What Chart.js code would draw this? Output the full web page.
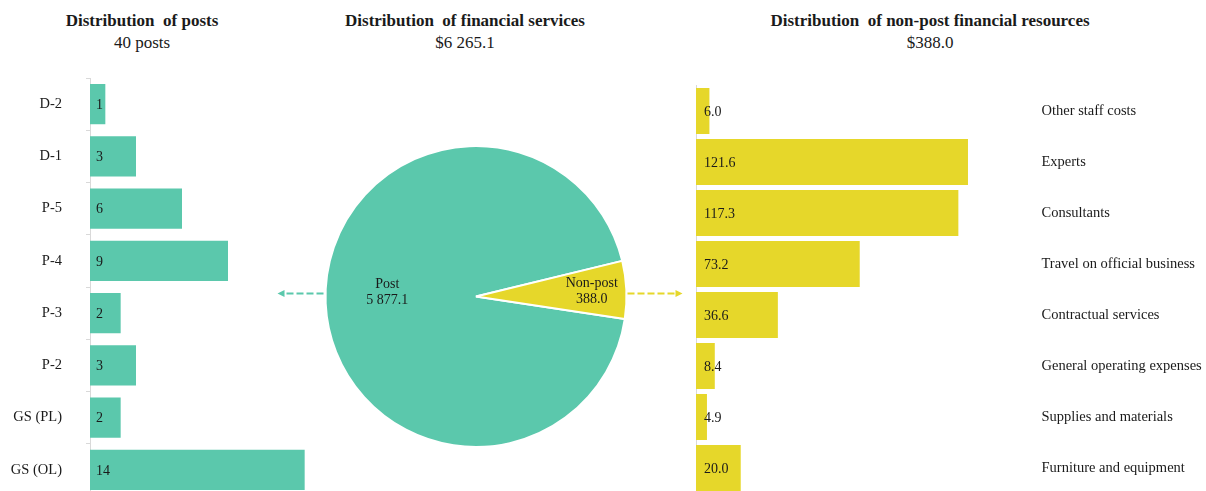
<!DOCTYPE html>
<html>
<head>
<meta charset="utf-8">
<script src="https://cdn.jsdelivr.net/npm/chart.js@4"></script>
<style>
  body { margin: 0; width: 1206px; height: 491px; overflow: hidden; background: #fff;
         font-family: "Liberation Serif", "Times New Roman", serif; color: #1a1a1a; }
  .t { position: absolute; width: 460px; text-align: center; font-size: 17px; line-height: 17px; white-space: pre; }
  .t.b { font-weight: bold; top: 12px; }
  .t.s { top: 34px; }
  canvas { position: absolute; top: 0; }
</style>
</head>
<body>
<div class="t b" style="left:-88px">Distribution  of posts</div>
<div class="t s" style="left:-88px">40 posts</div>
<div class="t b" style="left:235px">Distribution  of financial services</div>
<div class="t s" style="left:235px">$6 265.1</div>
<div class="t b" style="left:700px">Distribution  of non-post financial resources</div>
<div class="t s" style="left:700px">$388.0</div>

<canvas id="posts" width="320" height="496" style="left:0"></canvas>
<canvas id="nonpost" width="546" height="496" style="left:660px"></canvas>
<canvas id="services" width="420" height="491" style="left:266px"></canvas>

<script>
const postGrades = ['D-2', 'D-1', 'P-5', 'P-4', 'P-3', 'P-2', 'GS (PL)', 'GS (OL)'];
const postCounts = [1, 3, 6, 9, 2, 3, 2, 14];

const serviceLabels = ['Post', 'Non-post'];
const serviceAmounts = [5877.1, 388.0];

const nonPostItems = ['Other staff costs', 'Experts', 'Consultants', 'Travel on official business',
    'Contractual services', 'General operating expenses', 'Supplies and materials', 'Furniture and equipment'];
const nonPostAmounts = [6.0, 121.6, 117.3, 73.2, 36.6, 8.4, 4.9, 20.0];

const postAxisMax = 15;
const nonPostAxisMax = 150;

const GREEN = '#5bc8ac';
const YELLOW = '#e6d72a';
const TEXT = '#1a1a1a';
const AXIS = '#d9d9d9';
const FONT = '"Liberation Serif", "Times New Roman", serif';

Chart.defaults.font.family = FONT;
Chart.defaults.color = TEXT;
Chart.defaults.animation = false;
Chart.defaults.plugins.legend.display = false;
Chart.defaults.plugins.tooltip.enabled = false;

// 5877.1 -> "5 877.1"
const fmt = (v, d) => {
    const [i, f] = v.toFixed(d).split('.');
    return i.replace(/\B(?=(\d{3})+(?!\d))/g, ' ') + (f ? '.' + f : '');
};

// fixed axis width, and no extra label padding eating the plot height
const fixWidth = (w) => (scale) => {
    scale.width = w;
    scale.paddingTop = 0;
    scale.paddingBottom = 0;
};

// value written just inside the base of each bar
const barValues = (decimals, offset) => ({
    id: 'barValues',
    afterDatasetsDraw(chart) {
        const ctx = chart.ctx;
        const values = chart.data.datasets[0].data;
        ctx.save();
        ctx.font = '14px ' + FONT;
        ctx.fillStyle = TEXT;
        ctx.textBaseline = 'middle';
        chart.getDatasetMeta(0).data.forEach((bar, i) => {
            ctx.fillText(fmt(values[i], decimals), bar.base + offset, bar.y + 1);
        });
        ctx.restore();
    }
});

function drawArrow(ctx, x0, x1, y, color) {
    const dir = Math.sign(x1 - x0);
    ctx.save();
    ctx.strokeStyle = color;
    ctx.fillStyle = color;
    ctx.lineWidth = 2;
    ctx.setLineDash([7, 3]);
    ctx.beginPath();
    ctx.moveTo(x0, y);
    ctx.lineTo(x1 - dir * 5, y);
    ctx.stroke();
    ctx.setLineDash([]);
    ctx.beginPath();
    ctx.moveTo(x1, y);
    ctx.lineTo(x1 - dir * 7, y - 3.5);
    ctx.lineTo(x1 - dir * 7, y + 3.5);
    ctx.closePath();
    ctx.fill();
    ctx.restore();
}

// slice labels + the dashed arrows pointing to the side charts
const pieLabels = {
    id: 'pieLabels',
    afterDatasetsDraw(chart) {
        const ctx = chart.ctx;
        const arcs = chart.getDatasetMeta(0).data;
        const place = [{ r: 0.59, dy: -8 }, { r: 0.77, dy: 0 }];
        ctx.save();
        ctx.font = '14px ' + FONT;
        ctx.fillStyle = TEXT;
        ctx.textAlign = 'center';
        ctx.textBaseline = 'middle';
        arcs.forEach((arc, i) => {
            const a = (arc.startAngle + arc.endAngle) / 2;
            const r = arc.outerRadius * place[i].r;
            const x = arc.x + Math.cos(a) * r;
            const y = arc.y + Math.sin(a) * r + place[i].dy;
            ctx.fillText(chart.data.labels[i], x, y - 8);
            ctx.fillText(fmt(chart.data.datasets[0].data[i], 1), x, y + 8);
        });
        ctx.restore();

        const { x: cx, y: cy, outerRadius: r } = arcs[0];
        drawArrow(ctx, cx - r - 2, cx - r - 48, cy - 3, GREEN);
        drawArrow(ctx, cx + r + 1, cx + r + 56, cy - 3, YELLOW);
    }
};

new Chart(document.getElementById('posts'), {
    type: 'bar',
    data: {
        labels: postGrades,
        datasets: [{
            data: postCounts,
            backgroundColor: GREEN,
            barPercentage: 0.77,
            categoryPercentage: 1
        }]
    },
    options: {
        indexAxis: 'y',
        responsive: false,
        layout: { padding: { top: 78, right: 0, bottom: 0, left: 0 } },
        scales: {
            x: { display: false, min: 0, max: postAxisMax },
            y: {
                afterFit: fixWidth(90),
                border: { color: AXIS },
                grid: { drawOnChartArea: false, tickLength: 4, color: AXIS },
                ticks: { padding: 24, font: { size: 14.5 }, color: TEXT }
            }
        }
    },
    plugins: [barValues(0, 6)]
});

new Chart(document.getElementById('services'), {
    type: 'pie',
    data: {
        labels: serviceLabels,
        datasets: [{
            data: serviceAmounts,
            backgroundColor: [GREEN, YELLOW],
            borderColor: '#fff',
            borderWidth: 2
        }]
    },
    options: {
        responsive: false,
        rotation: 98.6,
        layout: { padding: { top: 145, bottom: 43 } }
    },
    plugins: [pieLabels]
});

new Chart(document.getElementById('nonpost'), {
    type: 'bar',
    data: {
        labels: nonPostItems,
        datasets: [{
            data: nonPostAmounts,
            backgroundColor: YELLOW,
            barPercentage: 0.9,
            categoryPercentage: 1
        }]
    },
    options: {
        indexAxis: 'y',
        responsive: false,
        layout: { padding: { top: 85.5, right: 0, bottom: 2.5, left: 0 } },
        scales: {
            x: { display: false, min: 0, max: nonPostAxisMax },
            y: {
                afterFit: fixWidth(36),
                border: { color: AXIS },
                grid: { display: false, drawTicks: false },
                ticks: { display: false }
            },
            y2: {
                axis: 'y',
                type: 'category',
                position: 'right',
                labels: nonPostItems,
                offset: true,
                afterFit: fixWidth(174.5),
                border: { display: false },
                grid: { display: false, drawTicks: false },
                ticks: { padding: 10, crossAlign: 'near', font: { size: 14.5 }, color: TEXT }
            }
        }
    },
    plugins: [barValues(1, 8)]
});
</script>
</body>
</html>
